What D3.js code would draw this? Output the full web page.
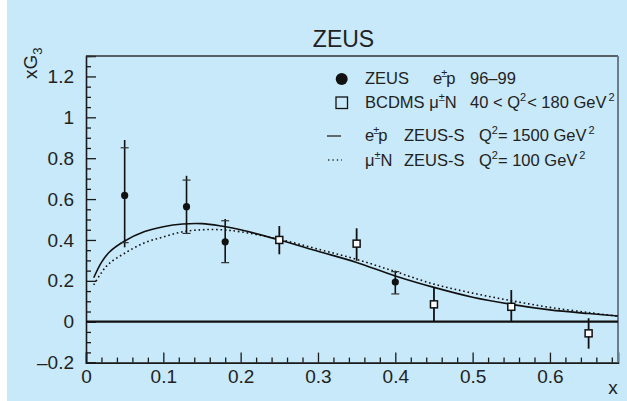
<!DOCTYPE html>
<html><head><meta charset="utf-8">
<script src="https://cdn.jsdelivr.net/npm/d3@7/dist/d3.min.js"></script>
<style>
html,body{margin:0;padding:0;background:#fff;}
svg{display:block;font-family:"Liberation Sans",Arial,Helvetica,sans-serif;}
</style></head>
<body>
<svg id="c" width="627" height="401"></svg>
<script>
// ZEUS e±p 96–99 data (filled circles)
const zeusX = [0.05, 0.13, 0.18, 0.40];
const zeusY = [0.618, 0.563, 0.391, 0.194];
const zeusTotUp = [0.889, 0.714, 0.502, 0.250];
const zeusTotDn = [0.364, 0.429, 0.289, 0.136];
const zeusStatUp = [0.851, 0.693, 0.494, 0.245];
const zeusStatDn = [0.387, 0.432, 0.289, 0.136];
// BCDMS μ±N (open squares)
const bcdmsX = [0.25, 0.35, 0.45, 0.55, 0.65];
const bcdmsY = [0.400, 0.382, 0.085, 0.073, -0.057];
const bcdmsUp = [0.468, 0.457, 0.168, 0.155, 0.017];
const bcdmsDn = [0.330, 0.298, 0.000, 0.000, -0.132];
// ZEUS-S curves
const curveX = [0.01, 0.02, 0.03, 0.05, 0.075, 0.1, 0.125, 0.15, 0.175, 0.2, 0.25, 0.3, 0.35, 0.4, 0.45, 0.5, 0.55, 0.6, 0.65, 0.688];
const solidY = [0.215, 0.29, 0.34, 0.395, 0.44, 0.465, 0.478, 0.48, 0.468, 0.45, 0.40, 0.345, 0.29, 0.224, 0.168, 0.12, 0.085, 0.058, 0.04, 0.028];
const dottedY = [0.18, 0.24, 0.285, 0.335, 0.385, 0.415, 0.44, 0.45, 0.45, 0.44, 0.403, 0.355, 0.305, 0.245, 0.184, 0.14, 0.103, 0.07, 0.045, 0.027];
// ticks
const xMajor = [0, 0.1, 0.2, 0.3, 0.4, 0.5, 0.6];
const xMajorLabels = ["0", "0.1", "0.2", "0.3", "0.4", "0.5", "0.6"];
const yMajor = [-0.2, 0, 0.2, 0.4, 0.6, 0.8, 1, 1.2];
const yMajorLabels = ["\u20130.2", "0", "0.2", "0.4", "0.6", "0.8", "1", "1.2"];

const svg = d3.select("#c");
const W = 627, H = 401;
svg.append("rect").attr("x", 7).attr("y", 0).attr("width", W - 7).attr("height", H).attr("fill", "#c8e9fa");

const x = d3.scaleLinear().domain([0, 0.688]).range([86, 618]);
const y = d3.scaleLinear().domain([-0.2, 1.3]).range([362.6, 56]);

const ink = "#1a1a1a";

// minor ticks
const xMinor = d3.range(0, 0.6801, 0.02).filter(v => xMajor.every(m => Math.abs(m - v) > 1e-6));
const yMinor = d3.range(-0.2, 1.3001, 0.05).filter(v => yMajor.every(m => Math.abs(m - v) > 1e-6));

const gx = svg.append("g").attr("transform", `translate(0,${y(-0.2)})`);
gx.call(d3.axisBottom(x).tickValues(xMajor).tickSize(-10).tickPadding(7).tickFormat((d, i) => xMajorLabels[i]));
const gxm = svg.append("g").attr("transform", `translate(0,${y(-0.2)})`);
gxm.call(d3.axisBottom(x).tickValues(xMinor).tickSize(-5).tickFormat(""));
gxm.select(".domain").remove();

const gy = svg.append("g").attr("transform", `translate(${x(0)},0)`);
gy.call(d3.axisLeft(y).tickValues(yMajor).tickSize(-10).tickPadding(12).tickFormat((d, i) => yMajorLabels[i]));
const gym = svg.append("g").attr("transform", `translate(${x(0)},0)`);
gym.call(d3.axisLeft(y).tickValues(yMinor).tickSize(-5).tickFormat(""));
gym.select(".domain").remove();

svg.selectAll(".tick line").attr("stroke", ink).attr("stroke-width", 1.3);
svg.selectAll(".domain").attr("stroke", ink).attr("stroke-width", 1.6);
svg.selectAll(".tick text").attr("fill", "#222").attr("font-size", 19).attr("font-family", "Liberation Sans, Arial, sans-serif");

// frame top and right
svg.append("line").attr("x1", x(0)).attr("x2", x(0.688)).attr("y1", y(1.3)).attr("y2", y(1.3)).attr("stroke", "#333").attr("stroke-width", 1.6);
svg.append("line").attr("x1", x(0.688)).attr("x2", x(0.688)).attr("y1", y(1.3)).attr("y2", y(-0.2)).attr("stroke", "#6c7c8a").attr("stroke-width", 2);

// zero line
svg.append("line").attr("x1", x(0)).attr("x2", x(0.688)).attr("y1", y(0)).attr("y2", y(0)).attr("stroke", "#111").attr("stroke-width", 2.2);

// curves
const line = d3.line().x((d, i) => x(curveX[i])).y(d => y(d)).curve(d3.curveCatmullRom);
svg.append("path").attr("d", line(dottedY)).attr("fill", "none").attr("stroke", "#111").attr("stroke-width", 1.6).attr("stroke-dasharray", "1.6 2.8");
svg.append("path").attr("d", line(solidY)).attr("fill", "none").attr("stroke", "#111").attr("stroke-width", 1.6);

// ZEUS points
zeusX.forEach((xv, i) => {
  svg.append("line").attr("x1", x(xv)).attr("x2", x(xv)).attr("y1", y(zeusTotUp[i])).attr("y2", y(zeusTotDn[i])).attr("stroke", "#111").attr("stroke-width", 1.6);
  [zeusStatUp[i], zeusStatDn[i]].forEach(v => {
    svg.append("line").attr("x1", x(xv) - 4).attr("x2", x(xv) + 4).attr("y1", y(v)).attr("y2", y(v)).attr("stroke", "#333").attr("stroke-width", 1.2);
  });
  svg.append("circle").attr("cx", x(xv)).attr("cy", y(zeusY[i])).attr("r", 3.6).attr("fill", "#111");
});
// BCDMS points
bcdmsX.forEach((xv, i) => {
  svg.append("line").attr("x1", x(xv)).attr("x2", x(xv)).attr("y1", y(bcdmsUp[i])).attr("y2", y(bcdmsDn[i])).attr("stroke", "#111").attr("stroke-width", 1.8);
  svg.append("rect").attr("x", x(xv) - 3.5).attr("y", y(bcdmsY[i]) - 3.5).attr("width", 7).attr("height", 7).attr("fill", "#fff").attr("stroke", "#111").attr("stroke-width", 1.5);
});

// title
svg.append("text").attr("x", 343.5).attr("y", 47).attr("text-anchor", "middle").attr("font-size", 23).attr("fill", "#222").text("ZEUS");

// axis labels
const yl = svg.append("text").attr("transform", "translate(37,79) rotate(-90)").attr("font-size", 19).attr("fill", "#222");
yl.append("tspan").text("xG");
yl.append("tspan").attr("font-size", 13).attr("dy", 5).text("3");
svg.append("text").attr("x", 613).attr("y", 394).attr("text-anchor", "middle").attr("font-size", 19).attr("fill", "#222").text("x");

// legend
const fs = 16.5;
function addText(xp, yp, parts) {
  const t = svg.append("text").attr("x", xp).attr("y", yp).attr("font-size", fs).attr("fill", "#222");
  let raised = false;
  parts.forEach(p => {
    if (p.sup) {
      t.append("tspan").attr("font-size", 11).attr("dy", raised ? 0 : -7).attr("dx", p.dx || 0).text(p.sup);
      raised = true;
    } else {
      t.append("tspan").attr("dy", raised ? 7 : 0).attr("dx", p.dx || 0).text(p.t);
      raised = false;
    }
  });
  return t;
}
svg.append("circle").attr("cx", 341.7).attr("cy", 79).attr("r", 6).attr("fill", "#111");
addText(365, 84, [{t: "ZEUS"}]);
addText(433, 84, [{t: "e"}, {sup: "\u00b1", dx: -1}, {t: "p", dx: -1}]);
addText(470, 84, [{t: "96\u201399"}]);

svg.append("rect").attr("x", 336).attr("y", 97).attr("width", 11.5).attr("height", 11.5).attr("fill", "none").attr("stroke", "#111").attr("stroke-width", 1.3);
addText(365, 107.5, [{t: "BCDMS \u03bc"}, {sup: "\u00b1"}, {t: "N"}]);
addText(470, 107.5, [{t: "40 < Q"}, {sup: "2"}, {t: "< 180 GeV", dx: 1}, {sup: "2", dx: 2}]);

svg.append("line").attr("x1", 327).attr("x2", 341).attr("y1", 136).attr("y2", 136).attr("stroke", "#333").attr("stroke-width", 1.4);
addText(365, 141, [{t: "e"}, {sup: "\u00b1", dx: -1}, {t: "p", dx: -1}]);
addText(404, 141, [{t: "ZEUS-S"}]);
addText(479, 141, [{t: "Q"}, {sup: "2"}, {t: "= 1500 GeV"}, {sup: "2", dx: 2}]);

svg.append("line").attr("x1", 328).attr("x2", 342).attr("y1", 160).attr("y2", 160).attr("stroke", "#333").attr("stroke-width", 1.4).attr("stroke-dasharray", "1.4 3");
addText(365, 165.5, [{t: "\u03bc"}, {sup: "\u00b1"}, {t: "N"}]);
addText(404, 165.5, [{t: "ZEUS-S"}]);
addText(479, 165.5, [{t: "Q"}, {sup: "2"}, {t: "= 100 GeV"}, {sup: "2", dx: 2}]);
</script>
</body></html>
